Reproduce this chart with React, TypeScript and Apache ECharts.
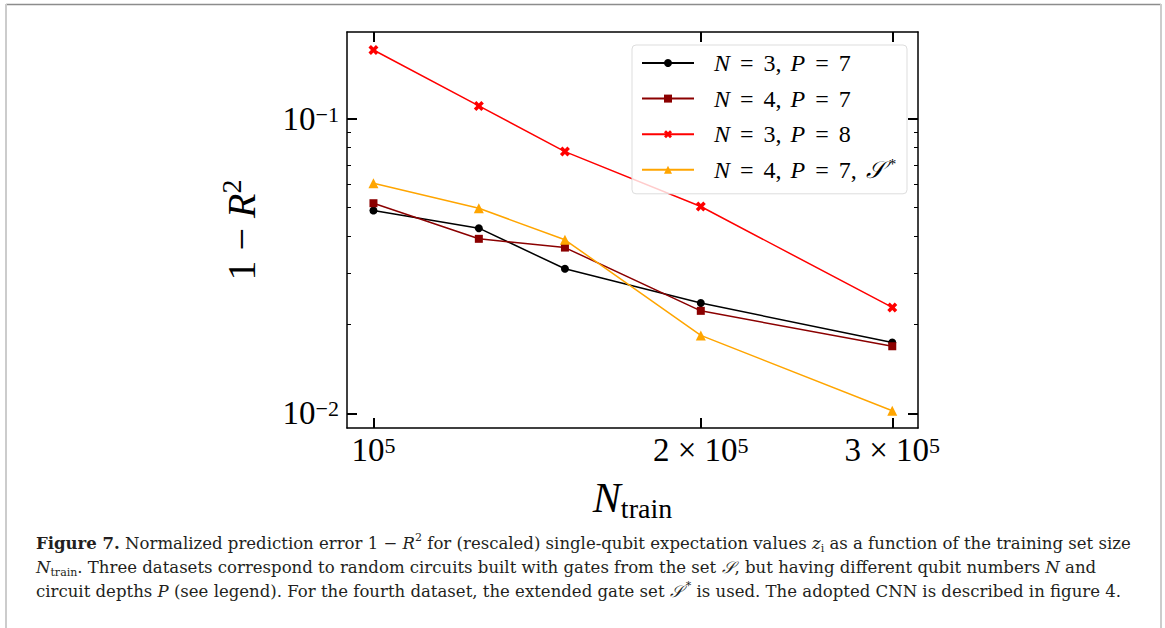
import React, { useEffect, useRef } from "react";
import * as echarts from "echarts";

// ---- data ----
const X_VALUES = [100000, 125000, 150000, 200000, 300000];
const SERIES_NAMES = ["N3P7", "N4P7", "N3P8", "N4P7S"];
const SERIES_LABELS = [
  "{sp|}{i|N}{eq| = }{r|3,}{cm| }{i|P}{eq| = }{r|7}",
  "{sp|}{i|N}{eq| = }{r|4,}{cm| }{i|P}{eq| = }{r|7}",
  "{sp|}{i|N}{eq| = }{r|3,}{cm| }{i|P}{eq| = }{r|8}",
  "{sp|}{i|N}{eq| = }{r|4,}{cm| }{i|P}{eq| = }{r|7,}{cm| }{i|𝒮}{sup|*}",
];
const Y_N3P7 = [0.0489, 0.0426, 0.031, 0.0237, 0.0174];
const Y_N4P7 = [0.0518, 0.0392, 0.0366, 0.0223, 0.0169];
const Y_N3P8 = [0.172, 0.111, 0.0776, 0.0505, 0.0229];
const Y_N4P7S = [0.0606, 0.0498, 0.0389, 0.0184, 0.0102];
const SERIES_VALUES = [Y_N3P7, Y_N4P7, Y_N3P8, Y_N4P7S];
const SERIES_COLORS = ["#000000", "#8b0000", "#ff0000", "#ffa500"];
const X_TICKS = [100000, 200000, 300000];
const Y_MAJOR = [0.01, 0.1];
const Y_MINOR = [0.02, 0.03, 0.04, 0.05, 0.06, 0.07, 0.08, 0.09];
const X_MIN = 94550;
const X_MAX = 316800;
const Y_MIN = 0.00891;
const Y_MAX = 0.198;

const X_PATH =
  "path://M-0.5,-1 L0,-0.5 L0.5,-1 L1,-0.5 L0.5,0 L1,0.5 L0.5,1 L0,0.5 L-0.5,1 L-1,0.5 L-0.5,0 L-1,-0.5 Z";
const SYMBOLS = ["circle", "rect", X_PATH, "triangle"];
const SYMBOL_SIZES = [8, 8, 10, 10];

const SERIF = "Liberation Serif";
const CAP_FONT = "DejaVu Serif";
const CAP_SIZE = 16.55;

function fmtX(v: number) {
  const e = Math.floor(Math.log10(v) + 1e-9);
  const m = Math.round(v / Math.pow(10, e));
  return m === 1 ? `{b|10}{s|${e}}` : `{b|${m} × 10}{s|${e}}`;
}
function fmtY(v: number) {
  const e = Math.round(Math.log10(v));
  return `{b|10}{s|${e < 0 ? "−" + -e : e}}`;
}

const tickRich = {
  b: { fontSize: 33, fontFamily: SERIF, color: "#000", lineHeight: 32 },
  s: { fontSize: 22, fontFamily: SERIF, color: "#000", lineHeight: 16, verticalAlign: "top" },
};

export default function App() {
  const ref = useRef<HTMLDivElement>(null);
  useEffect(() => {
    const chart = echarts.init(ref.current!, null, { renderer: "svg" });
    const majorTick = { inside: true, length: 10, lineStyle: { width: 2, color: "#000" } };
    const frameLine = { show: true, lineStyle: { color: "#000", width: 1.5 } };
    const common = { type: "log", logBase: 10, splitLine: { show: false } };
    const xAxes = [
      {
        ...common,
        position: "bottom",
        min: X_MIN,
        max: X_MAX,
        axisLine: frameLine,
        axisTick: { ...majorTick, customValues: X_TICKS },
        axisLabel: {
          customValues: X_TICKS,
          formatter: fmtX,
          margin: 6,
          rich: tickRich,
        },
        name: "{i|N}{sub|train}",
        nameLocation: "middle",
        nameGap: 46,
        nameTextStyle: {
          rich: {
            i: { fontSize: 42, fontFamily: SERIF, fontStyle: "italic", color: "#000", lineHeight: 48 },
            sub: { fontSize: 28, fontFamily: SERIF, color: "#000", lineHeight: 28, verticalAlign: "bottom" },
          },
        },
      },
      {
        ...common,
        position: "top",
        min: X_MIN,
        max: X_MAX,
        axisLine: frameLine,
        axisTick: { ...majorTick, customValues: X_TICKS },
        axisLabel: { show: false },
      },
    ];
    const yAxes = [
      {
        ...common,
        position: "left",
        min: Y_MIN,
        max: Y_MAX,
        axisLine: frameLine,
        axisTick: { ...majorTick, customValues: Y_MAJOR },
        axisLabel: { customValues: Y_MAJOR, formatter: fmtY, margin: 8, rich: tickRich },
        name: "1 − {i|R}{sup|2}",
        nameLocation: "middle",
        nameGap: 82,
        nameTextStyle: {
          fontSize: 40,
          fontFamily: SERIF,
          color: "#000",
          lineHeight: 48,
          rich: {
            i: { fontSize: 40, fontFamily: SERIF, fontStyle: "italic", color: "#000", lineHeight: 48 },
            sup: { fontSize: 28, fontFamily: SERIF, color: "#000", lineHeight: 28, verticalAlign: "top" },
          },
        },
      },
      {
        ...common,
        position: "right",
        min: Y_MIN,
        max: Y_MAX,
        axisLine: frameLine,
        axisTick: { ...majorTick, customValues: Y_MAJOR },
        axisLabel: { show: false },
      },
      {
        ...common,
        position: "left",
        min: Y_MIN,
        max: Y_MAX,
        axisLine: { show: false },
        axisTick: { inside: true, length: 4, lineStyle: { width: 1, color: "#000" }, customValues: Y_MINOR },
        axisLabel: { show: false },
      },
      {
        ...common,
        position: "right",
        min: Y_MIN,
        max: Y_MAX,
        axisLine: { show: false },
        axisTick: { inside: true, length: 4, lineStyle: { width: 1, color: "#000" }, customValues: Y_MINOR },
        axisLabel: { show: false },
      },
    ];
    const series = SERIES_NAMES.map((name, k) => ({
      type: "line",
      name,
      xAxisIndex: 0,
      yAxisIndex: 0,
      data: X_VALUES.map((x, i) => [x, SERIES_VALUES[k][i]]),
      symbol: SYMBOLS[k],
      symbolSize: SYMBOL_SIZES[k],
      showSymbol: true,
      lineStyle: { color: SERIES_COLORS[k], width: 1.5 },
      itemStyle: { color: SERIES_COLORS[k] },
      emphasis: { disabled: true },
    }));
    const capRich = {
      bd: { fontFamily: CAP_FONT, fontSize: CAP_SIZE, fontWeight: "bold", color: "#231f20", lineHeight: 22 },
      it: { fontFamily: CAP_FONT, fontSize: CAP_SIZE, fontStyle: "italic", color: "#231f20", lineHeight: 22 },
      sup: { fontFamily: CAP_FONT, fontSize: 11, color: "#231f20", lineHeight: 12, verticalAlign: "top" },
      sups: { fontFamily: CAP_FONT, fontSize: 11, color: "#231f20", lineHeight: 12, verticalAlign: "top", padding: [0, 0, 0, 3] },
      sub: { fontFamily: CAP_FONT, fontSize: 11, color: "#231f20", lineHeight: 12, verticalAlign: "bottom" },
      lk: { fontFamily: CAP_FONT, fontSize: CAP_SIZE, color: "#2b7bb9", lineHeight: 22 },
    };
    const capStyle = (text: string) => ({
      text,
      fontFamily: CAP_FONT,
      fontSize: CAP_SIZE,
      fill: "#231f20",
      lineHeight: 22,
      verticalAlign: "middle",
      rich: capRich,
    });
    const lg = { fontSize: 24, fontFamily: SERIF, color: "#000", lineHeight: 26 };
    chart.setOption({
      animation: false,
      backgroundColor: "#ffffff",
      grid: { left: 347, top: 32, width: 571, height: 396, containLabel: false },
      xAxis: xAxes,
      yAxis: yAxes,
      legend: {
        data: SERIES_NAMES,
        orient: "vertical",
        left: 632,
        top: 45,
        itemWidth: 52,
        itemHeight: 10,
        itemGap: 9.6,
        padding: [5, 9, 11, 9],
        backgroundColor: "rgba(255,255,255,0.8)",
        borderColor: "#dddddd",
        borderWidth: 1,
        borderRadius: 4,
        formatter: (name: string) => SERIES_LABELS[SERIES_NAMES.indexOf(name)],
        textStyle: {
          ...lg,
          width: 199,
          rich: {
            sp: { width: 15 },
            i: { ...lg, fontStyle: "italic" },
            r: { ...lg },
            eq: { ...lg, padding: [0, 4, 0, 4] },
            cm: { ...lg, padding: [0, 3, 0, 0] },
            sup: { fontSize: 15, fontFamily: SERIF, color: "#000", lineHeight: 15, verticalAlign: "top", padding: [0, 0, 0, 4] },
          },
        },
        selectedMode: false,
      },
      series,
      graphic: [
        { type: "line", shape: { x1: 6, y1: 4.5, x2: 1161, y2: 4.5 }, style: { stroke: "#8c8c8c", lineWidth: 1.5 } },
        { type: "line", shape: { x1: 6, y1: 4, x2: 6, y2: 628 }, style: { stroke: "#cccccc", lineWidth: 2 } },
        { type: "line", shape: { x1: 1161, y1: 4, x2: 1161, y2: 628 }, style: { stroke: "#cccccc", lineWidth: 2 } },
        {
          type: "text",
          x: 36,
          y: 543,
          style: capStyle(
            "{bd|Figure 7.} Normalized prediction error 1 − {it|R}{sup|2} for (rescaled) single-qubit expectation values {it|z}{sub|i} as a function of the training set size"
          ),
        },
        {
          type: "text",
          x: 36,
          y: 567,
          style: capStyle(
            "{it|N}{sub|train}. Three datasets correspond to random circuits built with gates from the set {it|𝒮}, but having different qubit numbers {it|N} and"
          ),
        },
        {
          type: "text",
          x: 36,
          y: 591,
          style: capStyle(
            "circuit depths {it|P} (see legend). For the fourth dataset, the extended gate set {it|𝒮}{sups|*} is used. The adopted CNN is described in figure {lk|4}."
          ),
        },
      ],
    });
    return () => chart.dispose();
  }, []);
  return (
    <div
      ref={ref}
      style={{ position: "fixed", left: 0, top: 0, width: 1165, height: 628, background: "#fff" }}
    />
  );
}
